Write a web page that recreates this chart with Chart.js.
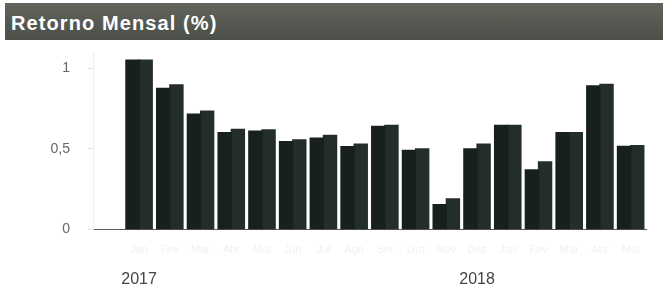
<!DOCTYPE html>
<html>
<head>
<meta charset="utf-8">
<script src="https://cdn.jsdelivr.net/npm/chart.js@4.4.1/dist/chart.umd.min.js"></script>
<style>
  html, body { margin: 0; padding: 0; background: #fff; }
  #wrap { position: relative; width: 663px; height: 293px; overflow: hidden; }
  #header {
    position: absolute; left: 5px; top: 3px; width: 658px; height: 37px;
    background: linear-gradient(180deg, #62655c 0%, #575a52 50%, #4c4f48 100%);
    color: #fff; font-family: "Liberation Sans", Arial, sans-serif;
    font-weight: bold; font-size: 20px; line-height: 40px; padding-left: 6px;
    box-sizing: border-box; letter-spacing: 1.1px;
  }
  canvas { position: absolute; left: 0; top: 0; }
</style>
</head>
<body>
<div id="wrap">
  <div id="header">Retorno Mensal (%)</div>
  <canvas id="retornoChart" width="663" height="293"></canvas>
</div>
<script>
// meses (primeira categoria vazia)
var meses = ["", "Jan", "Fev", "Mar", "Abr", "Mai", "Jun", "Jul", "Ago", "Set", "Out", "Nov", "Dez", "Jan", "Fev", "Mar", "Abr", "Mai"];
var anos = ["", "2017", "", "", "", "", "", "", "", "", "", "", "2018", "", "", "", "", ""];
var serieA = [null, 1.05, 0.875, 0.715, 0.60, 0.61, 0.545, 0.567, 0.513, 0.64, 0.49, 0.155, 0.50, 0.645, 0.37, 0.60, 0.89, 0.515];
var serieB = [null, 1.05, 0.896, 0.734, 0.62, 0.618, 0.555, 0.583, 0.529, 0.645, 0.50, 0.19, 0.53, 0.645, 0.42, 0.60, 0.90, 0.52];
var yTicks = [0, 0.5, 1];

const ctx = document.getElementById('retornoChart');
new Chart(ctx, {
  type: 'bar',
  data: {
    labels: meses,
    datasets: [
      {
        label: 'A',
        data: serieA,
        backgroundColor: '#17201c',
        borderWidth: 0,
        inflateAmount: 0.6
      },
      {
        label: 'B',
        data: serieB,
        backgroundColor: '#232e29',
        borderWidth: 0,
        inflateAmount: 0.6
      }
    ]
  },
  options: {
    responsive: false,
    animation: false,
    layout: { padding: { top: 52, right: 17, left: 0, bottom: 0 } },
    datasets: {
      bar: { categoryPercentage: 0.86, barPercentage: 1.0 }
    },
    scales: {
      x: {
        position: 'bottom',
        grid: { display: false, drawTicks: false },
        border: { display: true, color: '#5a5a5a', width: 1 },
        ticks: {
          color: '#f1f1f1',
          font: { family: 'Liberation Sans', size: 11 },
          padding: 14,
          maxRotation: 0,
          autoSkip: false
        },
        afterFit: function(scale) { scale.height = 30; }
      },
      anos: {
        type: 'category',
        position: 'bottom',
        labels: anos,
        grid: { display: false, drawTicks: false },
        border: { display: false },
        ticks: {
          color: '#444',
          font: { family: 'Liberation Sans', size: 16 },
          padding: 10,
          maxRotation: 0,
          autoSkip: false
        },
        afterFit: function(scale) { scale.height = 33.5; }
      },
      y: {
        min: 0,
        max: 1.1,
        afterBuildTicks: function(scale) {
          scale.ticks = yTicks.map(function(v) { return { value: v }; });
        },
        grid: {
          display: true,
          drawOnChartArea: false,
          drawTicks: true,
          tickLength: 5,
          color: '#e2e2e2'
        },
        border: { display: true, color: '#eeeeee' },
        ticks: {
          color: '#666',
          font: { family: 'Liberation Sans', size: 14 },
          padding: 18,
          callback: function(v) { return String(v).replace('.', ','); }
        },
        afterFit: function(scale) { scale.width = 93; }
      }
    },
    plugins: {
      legend: { display: false },
      tooltip: { enabled: false }
    }
  }
});
</script>
</body>
</html>
